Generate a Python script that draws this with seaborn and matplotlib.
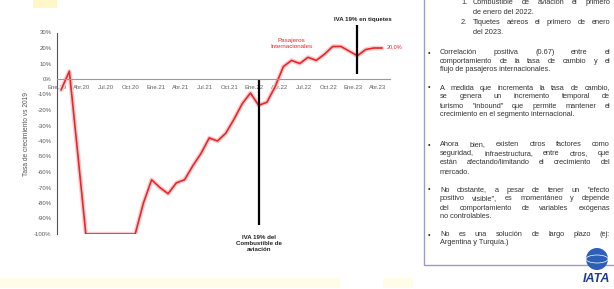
import numpy as np
import pandas as pd
import matplotlib
matplotlib.use("Agg")
import matplotlib.pyplot as plt
import seaborn as sns
from matplotlib.patches import Rectangle, Ellipse

# ---------------- data ----------------
tick_labels = ["Ene.20", "Abr.20", "Jul.20", "Oct.20", "Ene.21", "Abr.21", "Jul.21",
               "Oct.21", "Ene.22", "Abr.22", "Jul.22", "Oct.22", "Ene.23", "Abr.23"]
# monthly growth of international passengers vs 2019 (%), Jan 2020 .. Apr 2023
growth = [-7, 5, -47, -100, -100, -100, -100, -100, -100, -100,
          -80, -65, -70, -74, -67, -65, -56, -48, -38, -40,
          -35, -26, -16, -9, -17, -15, -5, 8, 12, 10,
          14, 12, 16, 21, 21, 18, 15, 19, 20, 20]
yticks = list(range(-100, 31, 10))
fuel_month = 24      # Ene.22
ticket_month = 36    # Ene.23
end_label = "20,0%"

box_lines = [
    # (y px, kind, marker, text, justify)
    (3, "num", "1.", "Combustible de aviación el primero", True),
    (13, "num", "", "de enero del 2022.", False),
    (23, "num", "2.", "Tiquetes aéreos el primero de enero", True),
    (32, "num", "", "del 2023.", False),
    (53, "bul", "•", "Correlación positiva (0.67) entre el", True),
    (61.5, "bul", "", "comportamiento de la tasa de cambio y el", True),
    (70, "bul", "", "flujo de pasajeros internacionales.", False),
    (88, "bul", "•", "A medida que incrementa la tasa de cambio,", True),
    (97, "bul", "", "se genera un incremento temporal de", True),
    (106, "bul", "", "turismo \"inbound\" que permite mantener el", True),
    (115, "bul", "", "crecimiento en el segmento internacional.", False),
    (145, "bul", "•", "Ahora bien, existen otros factores como", True),
    (154, "bul", "", "seguridad, infraestructura, entre otros, que", True),
    (163, "bul", "", "están afectando/limitando el crecimiento del", True),
    (172, "bul", "", "mercado.", False),
    (190, "bul", "•", "No obstante, a pesar de tener un \"efecto", True),
    (198.5, "bul", "", "positivo visible\", es momentáneo y depende", True),
    (208, "bul", "", "del comportamiento de variables exógenas", True),
    (216, "bul", "", "no controlables.", False),
    (235, "bul", "•", "No es una solución de largo plazo (ej:", True),
    (243, "bul", "", "Argentina y Turquía.)", False),
]

# ---------------- figure ----------------
W, H = 614, 289
sns.set_style("white")
plt.rcParams["font.family"] = ["Liberation Sans", "DejaVu Sans"]

fig = plt.figure(figsize=(W / 100, H / 100), dpi=100)
fig.patch.set_facecolor("white")

def fx(px):
    return px / W

def fy(py):
    return 1 - py / H

# faint yellow highlights (top-left and bottom strip)
fig.patches.append(Rectangle((fx(33), fy(8)), 24 / W, 8 / H, transform=fig.transFigure,
                             facecolor="#fff7c8", edgecolor="none", zorder=0))
fig.patches.append(Rectangle((fx(0), fy(288)), 340 / W, 10 / H, transform=fig.transFigure,
                             facecolor="#fffce8", edgecolor="none", zorder=0))
fig.patches.append(Rectangle((fx(383), fy(288)), 30 / W, 10 / H, transform=fig.transFigure,
                             facecolor="#fffce8", edgecolor="none", zorder=0))

ax_left, ax_right, ax_top, ax_bot = 57, 390, 32.5, 234
ax = fig.add_axes([fx(ax_left), fy(ax_bot), (ax_right - ax_left) / W, (ax_bot - ax_top) / H])
ax.set_facecolor("none")

df = pd.DataFrame({"pos": np.arange(len(growth)) + 0.5, "growth": growth})
sns.lineplot(data=df, x="pos", y="growth", ax=ax, color="#f9cccc", lw=3.2)
sns.lineplot(data=df, x="pos", y="growth", ax=ax, color="#e8262b", lw=1.2)

month_px = 8.23
ax.set_xlim(0, (ax_right - ax_left) / month_px)
ax.set_ylim(-100, 30)

for s in ["top", "right"]:
    ax.spines[s].set_visible(False)
ax.spines["left"].set_color("#555555")
ax.spines["left"].set_linewidth(0.8)
ax.spines["bottom"].set_position(("data", 0))
ax.spines["bottom"].set_color("#9a9a9a")
ax.spines["bottom"].set_linewidth(0.8)

ax.set_xticks(np.arange(len(tick_labels)) * 3)
ax.set_xticklabels(tick_labels)
ax.set_yticks(yticks)
ax.set_yticklabels([f"{v}%" for v in yticks])
ax.tick_params(axis="x", direction="inout", length=3, width=0.6, color="#888888",
               labelsize=4.3, labelcolor="#606060", pad=3)
ax.tick_params(axis="y", direction="out", length=2, width=0.6, color="#555555",
               labelsize=4.3, labelcolor="#555555", pad=2)
ax.set_xlabel("")
ax.set_ylabel("")

fig.text(fx(27), fy(134), "Tasa de crecimiento vs 2019", rotation=90, fontsize=4.8,
         color="#555555", ha="center", va="center")

# event lines
xf = fuel_month + 0.5
xt = ticket_month + 0.5
ax.plot([xf, xf], [0, -94], color="black", lw=1.6, solid_capstyle="butt")
ax.plot([xt, xt], [35, 3], color="black", lw=1.6, clip_on=False, solid_capstyle="butt")
ax.text(xf, -100.8, "IVA 19% del\nCombustible de\naviación", ha="center", va="top",
        fontsize=4.4, fontweight="bold", color="#222222", linespacing=1.25)
ax.text(xt + 0.7, 38.7, "IVA 19% en tiquetes", ha="center", va="center",
        fontsize=4.4, fontweight="bold", color="#222222")
ax.text(28.5, 23, "Pasajeros\nInternacionales", ha="center", va="center",
        fontsize=4.5, color="#e8262b", linespacing=1.3)
ax.text(len(growth) + 0.05, growth[-1] + 0.6, end_label, ha="left", va="center",
        fontsize=4.0, color="#e8262b")

# ---------------- text box ----------------
box_l, box_r, box_t, box_b = 424, 616, -5, 265
fig.patches.append(Rectangle((fx(box_l), fy(box_b)), (box_r - box_l) / W, (box_b - box_t) / H,
                             transform=fig.transFigure, facecolor="white",
                             edgecolor="#9c9cc4", lw=1.0, zorder=1))

renderer = fig.canvas.get_renderer()
FS = 5.3
TXT_COLOR = "#333333"
right_edge = 610
for py, kind, marker, text, just in box_lines:
    if kind == "num":
        mx, tx = 461, 473
    else:
        mx, tx = 428, 440
    if marker:
        fig.text(fx(mx), fy(py), marker, fontsize=FS, color=TXT_COLOR, ha="left", va="center",
                 zorder=2)
    words = text.split(" ")
    if not just or len(words) == 1:
        fig.text(fx(tx), fy(py), text, fontsize=FS, color=TXT_COLOR, ha="left", va="center",
                 zorder=2)
        continue
    objs = [fig.text(0, fy(py), w, fontsize=FS, color=TXT_COLOR, ha="left", va="center",
                     zorder=2) for w in words]
    widths = [o.get_window_extent(renderer=renderer).width for o in objs]
    gap = (right_edge - tx - sum(widths)) / (len(words) - 1)
    x = tx
    for o, w in zip(objs, widths):
        o.set_x(fx(x))
        x += w + gap

# ---------------- IATA logo ----------------
fig.patches.append(Ellipse((fx(597), fy(259)), 22 / W, 22 / H, transform=fig.transFigure,
                           facecolor="#2b5fb8", edgecolor="none", zorder=2))
fig.patches.append(Ellipse((fx(597), fy(259)), 22 / W, 8 / H, transform=fig.transFigure,
                           facecolor="none", edgecolor="white", lw=0.5, zorder=3))
fig.text(fx(596), fy(279), "IATA", fontsize=9, fontweight="bold", fontstyle="italic",
         color="#1f3f94", ha="center", va="center", zorder=3)

fig.savefig("out.png", dpi=100)
